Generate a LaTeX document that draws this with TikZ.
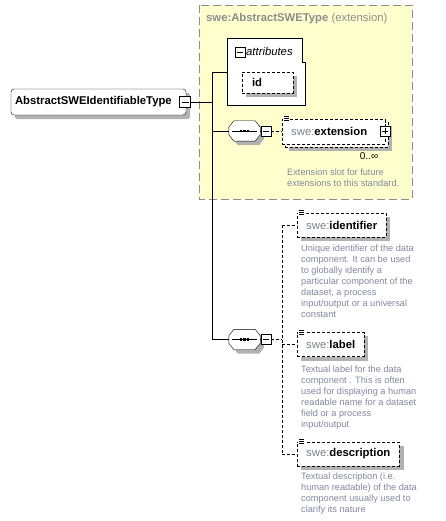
\documentclass[tikz,border=0pt]{standalone}
\usepackage{fontspec}
\setmainfont{Liberation Sans}
\usepackage{tikz}

\pgfdeclarelayer{back}
\pgfdeclarelayer{shade}
\pgfsetlayers{back,shade,main}

\definecolor{extyellow}{RGB}{255,255,206}
\definecolor{framegray}{RGB}{140,140,140}
\definecolor{prefixgray}{RGB}{125,128,140}
\definecolor{notegray}{RGB}{128,136,156}
\definecolor{shadowgray}{RGB}{178,178,178}

% small "documentation" mark in the top left corner of an element
\newcommand{\docmark}[1]{%
    \fill[white] ([xshift=1pt,yshift=3pt]#1.north west) rectangle ([xshift=8pt,yshift=-4pt]#1.north west);
    \foreach \k in {2,0,-2}
        \draw[line width=0.8pt] ([xshift=2pt,yshift=\k pt]#1.north west) -- +(5,0);
}
% gray shadow under a box
\newcommand{\boxshadow}[2][]{%
    \begin{pgfonlayer}{shade}
        \fill[shadowgray,#1] ([xshift=4pt,yshift=-4pt]#2.south west) rectangle ([xshift=4pt,yshift=-4pt]#2.north east);
    \end{pgfonlayer}
}
% sequence compositor outline: node, x shift, y shift, options
\newcommand{\octagon}[4]{%
    \path[#4] ([xshift=#2+5pt,yshift=#3]#1.north west) -- ([xshift=#2-5pt,yshift=#3]#1.north east)
        -- ([xshift=#2,yshift=#3-6.5pt]#1.north east) -- ([xshift=#2,yshift=#3+6.5pt]#1.south east)
        -- ([xshift=#2-5pt,yshift=#3]#1.south east) -- ([xshift=#2+5pt,yshift=#3]#1.south west)
        -- ([xshift=#2,yshift=#3+6.5pt]#1.south west) -- ([xshift=#2,yshift=#3-6.5pt]#1.north west) -- cycle;
}

\begin{document}
\begin{tikzpicture}[
        x=1pt, y=-1pt,
        line width=0.9pt,
        font=\fontsize{11.3}{13}\selectfont,
        typebox/.style={draw, fill=white, rounded corners=3pt, minimum width=175pt, minimum height=26pt,
            inner xsep=4pt, text width=167pt, align=left},
        elembox/.style={draw, dash pattern=on 3pt off 2pt, fill=white, minimum height=24pt, inner xsep=9pt, inner ysep=0pt},
        seqbox/.style={minimum width=31pt, minimum height=20pt, inner sep=0pt},
        btn/.style={draw, fill=white, minimum size=10pt, inner sep=0pt},
        minusbtn/.style={btn, path picture={
                \draw ([xshift=2pt]path picture bounding box.west) -- ([xshift=-2pt]path picture bounding box.east);}},
        plusbtn/.style={btn, path picture={
                \draw ([xshift=2pt]path picture bounding box.west) -- ([xshift=-2pt]path picture bounding box.east);
                \draw ([yshift=-2pt]path picture bounding box.north) -- ([yshift=2pt]path picture bounding box.south);}},
        note/.style={anchor=north west, inner sep=0pt, align=left, text=notegray,
            font=\fontsize{9.2}{11}\selectfont},
        dashline/.style={dash pattern=on 3pt off 2pt}
    ]

    \useasboundingbox (0,0) rectangle (445,521);

    % --- Extension area ---
    \begin{pgfonlayer}{back}
        \draw[fill=extyellow, draw=framegray, dash pattern=on 8pt off 4pt] (199,5) rectangle (412,199);
        % attributes container
        \draw[fill=white] (227,38) -- (302,38) -- (302,62) -- (305,62) -- (305,105) -- (227,105) -- cycle;
    \end{pgfonlayer}
    \node[anchor=base west, inner sep=0pt, text=framegray] (exttitle) at (206,22)
        {\textbf{swe:AbstractSWEType} (extension)};

    % --- Type ---
    \node[typebox] (type) at (98.5,102) {\textbf{AbstractSWEIdentifiableType}};
    \boxshadow[rounded corners=3pt]{type}
    \node[minusbtn, minimum size=11pt] (typebtn) at (185,102) {};

    % --- Trunk ---
    \coordinate (trunktop) at (212,72);
    \coordinate (trunkbot) at (212,339.5);
    \draw (typebtn.east) -- (typebtn.east -| trunktop);
    \draw (trunktop) -- (trunkbot);

    % --- Attributes ---
    \coordinate (attrin) at (227,72);
    \node[minusbtn] (attrbtn) at (240,52) {};
    \node[anchor=west, inner sep=0pt] (attrlabel) at (246,51) {\textit{attributes}};
    \node[elembox, minimum width=51pt, minimum height=21pt, inner xsep=10pt, text width=31pt, align=left]
        (id) at (267.5,82.5) {\textbf{id}};
    \boxshadow{id}
    \draw (trunktop) -- (attrin);

    % --- Sequences ---
    \node[seqbox] (seq1) at (244.5,131) {};
    \node[minusbtn] (seq1btn) at (266,131) {};
    \node[seqbox] (seq2) at (244.5,339.5) {};
    \node[minusbtn] (seq2btn) at (266,339.5) {};
    \foreach \s in {seq1,seq2} {
        \begin{pgfonlayer}{shade}
            \octagon{\s}{4pt}{-4pt}{fill=shadowgray}
        \end{pgfonlayer}
        \octagon{\s}{0pt}{0pt}{draw, fill=white}
        \draw ([xshift=3pt]\s.west) -- ([xshift=-3pt]\s.east);
        \foreach \d in {-3.6,0,3.6}
            \fill ([xshift=\d pt]\s.center) +(-1.2,-1.2) rectangle +(1.2,1.2);
        \draw (\s.east) -- (\s btn.west);
    }
    \draw (trunktop |- seq1.west) -- (seq1.west);
    \draw (trunkbot) -- (seq2.west);

    % --- swe:extension ---
    \node[elembox, anchor=west, minimum width=103pt, minimum height=25pt] (extback) at (285,134.5) {};
    \boxshadow{extback}
    \node[elembox, anchor=west, minimum width=103pt, minimum height=25pt, text width=85pt, align=left]
        (ext) at (282,131.5) {{\color{prefixgray}swe:}\textbf{extension}};
    \node[plusbtn] (extbtn) at (ext.east) {};
    \docmark{ext}
    \draw[dashline] (seq1btn.east) -- (seq1btn.east -| ext.west);
    \node[inner sep=0pt, font=\fontsize{10}{12}\selectfont] (extocc) at (369,156) {0..∞};
    \node[note] (extnote) at (287,168.5) {Extension slot for future\\extensions to this standard.};

    % --- Child elements ---
    \node[elembox, anchor=west] (ident) at (297,225) {{\color{prefixgray}swe:}\textbf{identifier}};
    \node[elembox, anchor=west] (lbl) at (297,344.5) {{\color{prefixgray}swe:}\textbf{label}};
    \node[elembox, anchor=west] (descr) at (297,454) {{\color{prefixgray}swe:}\textbf{description}};
    \foreach \n in {ident,lbl,descr} {
        \boxshadow{\n}
        \docmark{\n}
    }

    \node[note] (identnote) at (301,245) {Unique identifier of the data\\component. It can be used\\to globally identify a\\particular component of the\\dataset, a process\\input/output or a universal\\constant};
    \node[note] (lblnote) at (301,365.5) {Textual label for the data\\component . This is often\\used for displaying a human\\readable name for a dataset\\field or a process\\input/output};
    \node[note] (descrnote) at (301,472.5) {Textual description (i.e.\\human readable) of the data\\component usually used to\\clarify its nature};

    % --- Dashed tree ---
    \coordinate (tree) at (282,339.5);
    \draw[dashline] (seq2btn.east) -- (tree);
    \draw[dashline] (tree |- ident.west) -- (tree |- descr.west);
    \foreach \n in {ident,lbl,descr} {
        \draw[dashline] (tree |- \n.west) -- (\n.west);
    }

\end{tikzpicture}
\end{document}
